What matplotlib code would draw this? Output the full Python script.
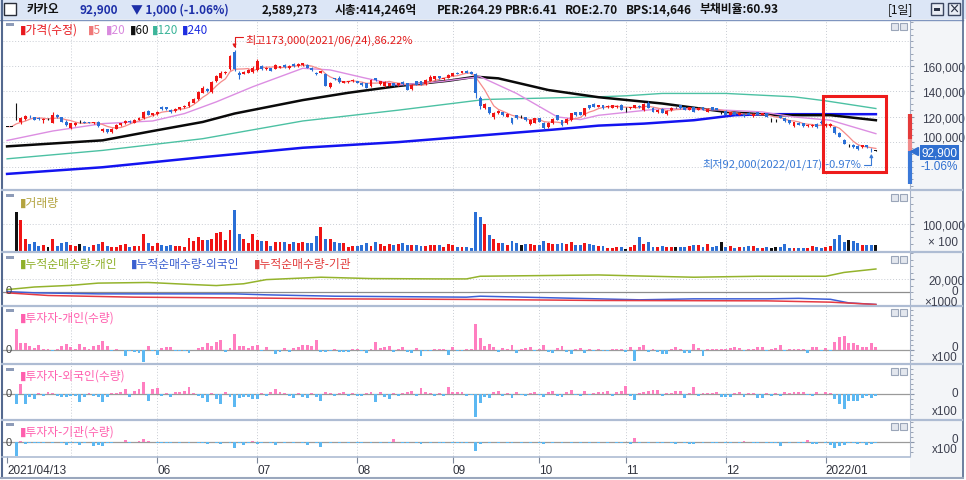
import numpy as np
import pandas as pd
import matplotlib
matplotlib.use("Agg")
import matplotlib.pyplot as plt
import matplotlib.transforms as mtrans
from matplotlib.patches import Rectangle
from matplotlib.lines import Line2D
from matplotlib.ticker import MultipleLocator, FuncFormatter

plt.rcParams['font.family'] = ['Noto Sans CJK KR', 'DejaVu Sans']

W, H = 966, 481

# ---- daily candles, thousand won (2021/04/13 .. 2022/01/18) ----
opens = [112, 112, 118.5, 115.5, 118, 120, 119.7, 118.5, 117, 117.8,
         115, 121, 119.5, 116, 111, 113, 115.5, 116, 115.5, 114.5,
         115.5, 108.5, 110, 107.5, 110.5, 113, 114.5, 116.5, 115, 117.5,
         118.5, 124.5, 121, 122, 128, 127.5, 125.5, 124.5, 126, 127.5,
         128.5, 131, 134, 139, 142, 139.5, 148, 151, 154.5, 157.5,
         171, 155, 154, 155, 155.5, 157, 160, 157.5, 158.5, 158,
         159, 161, 159, 162, 160, 161, 161, 159, 155, 155,
         154, 143.5, 150.5, 151, 147, 147.5, 148, 148, 147, 146.5,
         144, 150.5, 146, 144, 144.5, 146.5, 145, 147.5, 146.5, 142,
         148, 148, 146, 148.5, 149.5, 152, 149.5, 151, 152.5, 154.5,
         155, 156.5, 155.5, 154, 135, 126.5, 127.5, 120, 122.5, 123.5,
         120, 118.5, 121, 119.5, 119.5, 114, 115, 118.5, 115, 112,
         114.5, 121, 117, 114.5, 117, 123.5, 123.5, 121, 129, 130,
         128, 129, 127.5, 127, 127.5, 129.5, 125.8, 126.5, 127, 128.5,
         125, 131, 127, 123.5, 126, 122, 125, 127.5, 129, 127.5,
         125.5, 127.5, 125.5, 127.5, 124, 127.5, 126.5, 123.5, 124.5, 121.5,
         123.5, 121.5, 122, 123, 120.5, 123.5, 121.5, 122.5, 117, 117,
         120.5, 118.5, 117, 112.5, 115, 114.5, 112.5, 112.5, 114, 116,
         112.5, 112.5, 111.5, 107, 101.5, 97, 97.5, 96.5, 95.5, 97,
         94.5, 92.9]
highs = [112, 112, 131, 120, 121.5, 121, 120, 119.5, 118.5, 118.5,
         123.5, 122, 120, 117, 115, 116, 117, 116.5, 116, 116,
         116.5, 111, 110.5, 111, 114, 115, 117.5, 117, 118, 119.5,
         124.5, 125, 123, 124.5, 128.5, 128, 126, 126.5, 128, 129,
         132, 134.5, 140, 144, 143, 148, 153, 156, 156, 169,
         173, 156, 156, 157.5, 160, 165.5, 161, 159.5, 159, 161.5,
         160.5, 161.5, 161, 162.5, 162.5, 163, 161.5, 159.5, 155.5, 156.5,
         154.5, 147.5, 151, 152, 148.5, 148.5, 149.5, 148.5, 147.5, 147,
         149.5, 151, 148.5, 148, 147, 147, 147, 148, 147, 146,
         148.5, 148.5, 149.5, 153, 152.5, 152.5, 151, 153.5, 155, 155.5,
         156.5, 157, 156, 154.5, 136, 131, 128, 124, 125, 124,
         122.5, 119, 121.5, 121, 120, 118, 119, 119, 115.5, 115.5,
         118.5, 121.5, 117.5, 118.5, 123, 124, 124, 127, 129.5, 130.5,
         129.5, 129.5, 129, 129.5, 129, 130, 127.5, 128, 129.5, 129,
         131, 132, 127.5, 126, 126.5, 125, 127.5, 128, 129.5, 128,
         128, 128, 127.5, 128, 126.5, 128, 127, 124.5, 125, 124,
         124, 123.5, 122.5, 123.5, 122.5, 124, 123, 123, 118.5, 118,
         121, 119, 117.5, 116, 116, 115, 114, 114, 114.5, 117.5,
         114.5, 115, 112, 108, 102, 98.5, 98.5, 97, 97.5, 97.5,
         95, 93.5]
lows = [112, 112, 117, 114, 117, 118.5, 117, 117.5, 114.5, 117,
        114.5, 119, 115.5, 112.5, 110, 112.5, 114.5, 114.5, 114.5, 114,
        112, 108, 107, 107, 110, 112.5, 114, 115, 114.5, 117,
        118, 121, 120.5, 121.5, 125.5, 125.5, 123, 124, 125.5, 127,
        128, 130.5, 133.5, 138.5, 139.5, 139, 147.5, 150.5, 154, 157,
        156.5, 149.5, 153.5, 154.5, 155, 156.5, 157, 157, 156, 157.5,
        158.5, 159, 157.5, 159.5, 159.5, 160.5, 158.5, 156.5, 153, 154.5,
        144, 142.5, 149, 147, 146.5, 147, 147.5, 146.5, 144.5, 142.5,
        143.5, 148.5, 145.5, 143.5, 144, 144, 144.5, 145.5, 141, 141.5,
        145, 145, 145.5, 148, 149, 150, 149, 150.5, 152, 153.5,
        154.5, 154.5, 153.5, 134.5, 126, 126, 122, 118, 122, 120.5,
        119.5, 114, 118, 118.5, 116.5, 113.5, 114.5, 115.5, 110.5, 111,
        114, 117, 112.5, 114, 116.5, 120.5, 121, 120.5, 126, 127.5,
        127.5, 126, 127, 126.5, 127, 125, 124, 126, 126.5, 127,
        124.5, 126.5, 123.5, 123, 122.5, 121.5, 124.5, 126.5, 126, 125,
        125, 123.5, 125, 125, 123.5, 125, 125, 122, 121, 121,
        121, 121, 120, 121, 120, 121, 121, 119.5, 115.5, 115.5,
        118.5, 116, 114, 112, 113, 112, 112, 112, 111, 114,
        112, 111.5, 106.5, 103.5, 98, 96, 95, 93.5, 95, 95,
        92, 92.5]
closes = [112, 112, 118.5, 119, 120.5, 119.5, 117.5, 118, 118, 117.8,
          121, 119.5, 116, 113, 114.5, 115, 115.5, 115, 115, 115.5,
          112.5, 110.5, 107.5, 110.5, 113.5, 114.5, 116.5, 115.5, 117.5, 119,
          123.5, 121.5, 122.5, 124, 126, 126, 123.5, 126, 127.5, 128.5,
          131.5, 134, 139.5, 143, 140, 147.5, 152, 155, 155.5, 168,
          157.5, 153, 155.5, 157, 159, 164.5, 157.5, 159, 156.5, 161,
          160, 159.5, 160.5, 160, 162, 162.5, 159, 157, 153.5, 156,
          144.5, 147, 149.5, 147.5, 148, 148, 149, 147, 145, 143,
          149, 149, 148, 147.5, 146.5, 144.5, 146.5, 146, 141.5, 145.5,
          145.5, 145.5, 149, 151.5, 152, 150.5, 150.5, 153, 154.5, 154,
          156, 155, 154, 138.5, 128.5, 130, 122.5, 123, 124.5, 121,
          122, 114.5, 118.5, 119.5, 117, 117.5, 118.5, 116, 111, 115,
          118, 117.5, 113, 118, 122.5, 121, 121.5, 126.5, 126.5, 128,
          129, 126.5, 128.5, 129, 128.5, 125.5, 125.8, 127.5, 129, 127.5,
          130, 127, 124, 125.5, 123, 124.5, 127, 127.5, 126.5, 125.5,
          127.5, 124, 127, 125.5, 126, 125.5, 125.5, 123.5, 121.5, 123.5,
          121.5, 123, 120.5, 121.5, 122, 121.5, 122.5, 120, 117, 117,
          119, 116.5, 114.5, 115.5, 113.5, 112.5, 113.5, 113.5, 111.5, 114.5,
          114, 114, 107, 104, 98.5, 97, 95.5, 94, 97, 95.5,
          93.9, 92.9]

# volume, million shares
volume = [0, 0, 14.4, 11.5, 4.4, 2.5, 3.4, 1.9, 2.1, 1.3,
          4.4, 1.7, 2.9, 3.4, 2.1, 1.9, 2.5, 1.7, 1.3, 2.1,
          2.7, 3.4, 1.9, 1.4, 1.6, 2.1, 2.5, 1.6, 1.7, 1.9,
          6.2, 2.9, 1.9, 2.9, 2.3, 1.9, 2.1, 1.7, 1.7, 1.6,
          4.8, 3.7, 5.2, 4.0, 4.0, 4.4, 6.7, 6.9, 3.9, 7.9,
          15.4, 6.2, 4.4, 3.1, 6.2, 3.9, 3.7, 3.7, 1.7, 3.4,
          3.2, 3.2, 2.5, 3.2, 3.1, 3.4, 3.1, 3.1, 5.4, 8.8,
          4.6, 4.6, 3.2, 2.9, 3.1, 1.3, 1.9, 1.9, 2.1, 2.9,
          1.9, 3.2, 2.5, 1.9, 2.5, 2.1, 2.5, 2.9, 2.3, 2.3,
          2.3, 1.9, 1.9, 2.3, 2.1, 2.1, 1.3, 2.5, 2.3, 1.6,
          1.6, 1.6, 0.9, 14.4, 12.8, 10.0, 6.0, 4.5, 3.0, 2.8,
          2.2, 3.5, 3.0, 2.0, 2.4, 2.6, 2.0, 2.2, 3.6, 2.8,
          2.5, 2.6, 3.0, 2.4, 3.2, 2.2, 2.0, 3.0, 2.5, 2.2,
          1.8, 1.9, 1.1, 1.1, 1.6, 1.3, 0.8, 1.6, 2.1, 5.2,
          2.5, 3.4, 1.6, 1.6, 1.9, 1.6, 1.3, 1.6, 1.6, 1.6,
          1.9, 2.1, 2.1, 1.6, 2.5, 1.6, 1.9, 3.2, 1.6, 1.9,
          1.2, 1.3, 1.3, 1.9, 1.9, 1.2, 1.2, 1.3, 0.9, 1.3,
          1.3, 2.5, 1.2, 0.9, 1.2, 1.2, 1.2, 1.9, 1.6, 1.2,
          1.6, 1.9, 4.4, 5.9, 3.2, 4.1, 3.7, 2.9, 2.1, 2.1,
          2.1, 2.1]

# moving averages (bar index, thousand won)
ma20_idx = [0, 10, 21, 32, 39, 46, 54, 65, 71, 79, 86, 95, 101, 104, 112, 121, 126, 130, 144, 158, 166, 173, 181, 191]
ma20_val = [101, 108.5, 114.4, 116.5, 122.4, 131.7, 143.7, 158.4, 157.1, 150.4, 145.1, 147.7, 150.4, 151.7,
            138.4, 119.7, 117.6, 121, 126.4, 125.1, 123.7, 119.7, 117.1, 106.4]
ma60_idx = [0, 21, 32, 43, 50, 65, 75, 86, 97, 103, 108, 119, 130, 144, 158, 169, 181, 191]
ma60_val = [96.3, 101.1, 108.5, 115.7, 122.4, 133.1, 138.9, 144.3, 148.5, 151.7, 150.4, 141.1, 135.4,
            130.4, 123.7, 121.1, 121.1, 117.1]
ma120_idx = [0, 21, 43, 65, 86, 105, 130, 136, 144, 158, 173, 180, 191]
ma120_val = [86.4, 93.1, 102.4, 116.5, 125.1, 133.6, 135.7, 136.5, 138.4, 138.4, 135.7, 132.5, 126.4]
ma240_idx = [0, 21, 43, 65, 86, 109, 120, 130, 140, 151, 160, 167, 191]
ma240_val = [74.4, 79.7, 87.7, 95.2, 99.7, 106.4, 109.6, 112.8, 114.4, 117.1, 121.1, 121.9, 121.9]

# cumulative net buying (x1000 shares)
cum_ind_idx = [0, 6, 14, 20, 31, 40, 46, 52, 57, 69, 80, 95, 101, 104, 130, 139, 151, 165, 180, 184, 191]
cum_ind_val = [4000, 8000, 10500, 14000, 15000, 12000, 10200, 13000, 19400, 23100, 21000, 20500, 20500,
               24600, 26600, 25000, 23100, 24600, 24600, 30500, 35800]
cum_for_idx = [0, 6, 20, 50, 57, 72, 101, 104, 130, 139, 151, 167, 174, 181, 185, 191]
cum_for_val = [900, -1000, -2600, -2600, -4100, -6200, -7700, -6200, -10300, -11800, -10300, -10300,
               -9500, -11000, -16500, -19000]
cum_ins_idx = [0, 9, 28, 57, 72, 104, 130, 167, 181, 191]
cum_ins_val = [-1000, -5100, -7700, -9200, -10300, -11300, -12800, -13400, -15400, -19000]

# daily net buying by investor
indiv = [0, 0, 21, 7, 7, 4, 2, 5, 1, 0.5,
         -1.7, 0.7, 4, 6, 3, 1.2, 6, 3, 1.2, 4,
         5, 9, 4, -1.3, 0.7, -0.3, -6, -1, -2.7, -3.3,
         -12.7, 3.7, -1.7, -5.3, 1.7, 2.3, 2.3, -1.7, -1.7, -1.7,
         -3.3, -0.3, 1.3, 2.3, 6.7, 3.3, 7.3, 10, -2, 1.7,
         15.7, 4, 4, 1.3, 4, 5, -1.7, 3, -0.3, -4.3,
         -2.7, 1.7, -2.7, 1.3, 3, 5, 5, 3.3, 10, -2.7,
         -2, -1.7, 0.3, -2, -2, -2, 0.7, 0.7, -1.7, -3.3,
         0.7, 8, 1.3, 3, 4, -2.7, 0.7, 3, -2.7, -3.7,
         1.3, -6, -1.7, -1.7, 0.7, 0.7, 0.3, -5.3, 2.3, -1.7,
         -1.7, 0.3, 0.3, 25.7, 12, 4, 6, 3, -2, 2,
         1, 5, -3, 1, 2, 3, -1.5, 1, 5, -2,
         -3, 1.5, 4, -2, -4, 1, 2, -3, 1, -1,
         0.5, -1, -1, 0.7, 0.7, 1, -2.7, 3, -11, 2.3,
         4.7, -2, 0.7, -2, -4.3, -4.3, 0.3, 3, 0.5, -3.3,
         -3.3, 5.7, 1.7, -6, 0.7, 0.7, 0.3, 0.5, 0.7, 1.3,
         3, 1.7, -1.7, 0.7, 0.3, 3, 3, -1.7, 0.5, 1.7,
         5, -1.7, 0.7, 0.7, 0.7, 0.3, -3.3, 2.3, 3, -1.7,
         2, -1, 8, 13, 14, 6.3, 6.3, 4.7, 2.3, 3,
         6.3, 2.3]
foreign = [0, 0, -10, 10, -10, -3.3, -5, 0.7, -2.3, 1.7,
           0.7, -1.7, -3.3, -3.3, -1.7, -1.7, -7.7, -3.3, 0.7, -1.7,
           -2.7, -7.7, -2.7, 1, 0.7, 1.7, 5, -2.7, 3.3, 5,
           11.7, -6.7, 5, 5.7, -1.7, 0.7, -2.7, 1.7, 2.3, 3.3,
           6.7, 0.7, -1.7, -4, -8.3, 0.7, -5, -10, 1.7, -2.7,
           -13.3, -4.3, -3.3, -2.7, -5, -5, 0.7, -1.7, 1.7, 5,
           1.7, 0.7, -1.7, -4.3, 0.7, -3.3, -4.3, 0.7, -2.7, -7.3,
           1.7, 0.7, -1.7, 0.7, 1.7, -1.7, 0.7, -1.7, -1.7, 0.7,
           1.7, -8.3, 1.7, -3.3, -5, 0.7, -1.7, 0.7, 1.7, 3.3,
           -1.7, 5.7, 2.3, 0.7, -1.7, 0.7, -1.7, 6.7, 1.7, 2.3,
           1.7, -1.7, -1, -23.3, -9, -3, -4, 2, 3, -2,
           1, -4, 2, -1, -2, 1.5, 2, -1, -3, 2.5,
           3, -1.5, -3, 2, 4, -1, -2, 3, -1, 1,
           1.7, 1.7, 3, -1.7, 2.3, 3.3, 7.7, -1.7, -5.7, 0.7,
           1.7, 3.3, 4, 4, -1.7, 0.7, 0.7, 2.7, 2.7, -4.3,
           0.7, 6.7, -1.7, 0.7, 0.7, 0.7, 1.7, -3.3, -2.7, -2.7,
           0.7, 1.7, -2.7, 0.7, 0.7, -4, -4, 0.7, -1.7, 0.7,
           -1.7, 1.7, 0.7, 1.7, 2.3, 2.3, -1, -1.7, 1.7, 0.5,
           1.7, 0.7, -5, -10, -15, -6.7, -6.7, -6.7, -4.3, -2.3,
           -4, -1.7]
inst = [0, 0, -13.3, 1.7, -1.7, -0.7, -1, -0.7, -1, 0.5,
        -0.7, 0.5, -1, -2.7, -0.7, -1, -2.7, -0.7, 0.5, -3.3,
        -2.7, -3.3, -1, -0.7, 0.5, 0.7, 2.7, -0.7, 0.7, 1,
        3.3, 1.7, 0.5, -0.7, -1, -0.7, -1, 0.5, -0.7, 0.5,
        -0.7, 0.5, -0.7, -1, -1.7, 0.7, -1, -1.7, 0.5, -0.7,
        -5.7, -0.7, -2.7, -0.7, 1.7, -2, -0.7, 0.5, -0.7, -2.7,
        0.7, -0.7, 0.5, -0.7, 0.7, -0.7, -2.7, 0.5, -0.7, -5,
        0.5, -0.7, 0.7, -0.7, 0.5, -0.7, 0.7, -1, -0.7, 0.5,
        -0.7, 0.5, -0.7, 0.7, -0.7, 3.3, 0.5, -0.7, -0.7, 0.5,
        -0.7, -1.7, 0.5, -0.7, 0.5, -0.7, -0.7, 0.5, -0.7, -0.7,
        -0.7, -1, 0.5, -8.3, -2, 0.7, -1, 0.5, -0.7, 0.5,
        -0.7, -1, 0.7, -0.7, 0.5, -1, 0.7, -0.7, -1.7, 0.5,
        -0.7, 0.7, -0.7, 0.5, -1, 0.7, -0.7, 0.5, -0.7, 0.5,
        -0.7, 0.5, -0.7, 0.5, -0.7, -1, 0.5, -1.7, 4, -0.7,
        0.5, -0.7, 0.5, -0.7, -1, 0.5, -0.7, -1.7, 0.5, -0.7,
        -1.7, -1.7, 0.5, -0.7, 0.5, -0.7, -0.7, 0.5, -0.7, -0.7,
        0.5, -0.7, 1.7, 0.5, -0.7, -0.7, 0.5, -0.7, -1, -0.7,
        -3.3, 0.5, -0.7, 0.5, -0.7, -0.7, 2.3, -1.7, -1.7, 0.5,
        -0.7, -2.7, -5.7, -4, -2.7, -1, -0.7, -1.7, -0.7, -2.7,
        -1.7, -0.7]

month_idx = [0, 33, 55, 77, 98, 117, 136, 158, 180]
month_lbl = ['2021/04/13', '06', '07', '08', '09', '10', '11', '12', '2022/01']
grid_idx = [14, 33, 55, 77, 98, 117, 136, 158, 180]

peak_idx, low_idx = 50, 190

# ---- colours ----
UP, DOWN, FLAT = '#f01414', '#2a6fd6', '#111111'
PINK, SKY = '#ff7ec0', '#5cb8f2'
GRID = '#c9cdd4'
NUMFONT = 'Liberation Sans'

o = np.array(opens) * 1000
h = np.array(highs) * 1000
l = np.array(lows) * 1000
c = np.array(closes) * 1000
n = len(c)
x = np.arange(n)
cols = np.where(c > o, UP, np.where(c < o, DOWN, FLAT))


def prect(x0, y0, x1, y1):
    return [x0 / W, 1 - y1 / H, (x1 - x0) / W, (y1 - y0) / H]


def fbox(x0, y0, x1, y1, **kw):
    fig.add_artist(Rectangle((x0 / W, 1 - y1 / H), (x1 - x0) / W, (y1 - y0) / H,
                             transform=fig.transFigure, **kw))


def fline(x0, y0, x1, y1, **kw):
    fig.add_artist(Line2D([x0 / W, x1 / W], [1 - y0 / H, 1 - y1 / H],
                          transform=fig.transFigure, **kw))


def ftext(xp, yp, s, **kw):
    kw.setdefault('va', 'center')
    kw.setdefault('ha', 'left')
    fig.text(xp / W, 1 - yp / H, s, **kw)


fig = plt.figure(figsize=(W / 100, H / 100), dpi=100)
fig.patch.set_facecolor('white')

# frame and right gutter
fbox(910, 21, 962, 478, fc='#f3f5f8', ec='none', zorder=0)
fbox(0, 0, 966, 20, fc='#dce6f6', ec='none')
fline(0, 20.5, 963, 20.5, color='#7f95bf', lw=1)
fline(1.5, 0, 1.5, 479, color='#54698f', lw=1.5)
fline(962.5, 0, 962.5, 479, color='#54698f', lw=1.2)
fline(0, 478.5, 963, 478.5, color='#9aa7bd', lw=1.5)

panels = [(21, 190), (192, 252), (254, 306), (307, 364), (366, 420), (421, 457)]
axes = []
for (t, b) in panels:
    a = fig.add_axes(prect(3, t, 910, b))
    a.set_facecolor('white')
    for s in ['top', 'left', 'bottom']:
        a.spines[s].set_visible(False)
    a.spines['right'].set_color('#a7b3c8')
    a.yaxis.tick_right()
    a.tick_params(axis='y', labelsize=8.5, colors='#8a96aa', labelcolor='#3c3f4e',
                  length=3, pad=6, direction='out', labelfontfamily=NUMFONT)
    a.tick_params(axis='y', which='minor', length=2, colors='#8a96aa')
    a.set_xlim(-0.9, 198.5)
    for g in grid_idx:
        a.axvline(g, color=GRID, lw=0.7, ls=(0, (1, 2)), zorder=0)
    a.tick_params(axis='x', bottom=False, labelbottom=False)
    axes.append(a)
ax_p, ax_v, ax_c, ax_i, ax_f, ax_o = axes

for (t, b) in panels[:-1]:
    fline(2, b + 1, 962, b + 1, color='#aebcd3', lw=1.6)
fline(2, 457.5, 910, 457.5, color='#aebcd3', lw=1.2)

comma = FuncFormatter(lambda v, p: f'{v:,.0f}')

# ---- price panel ----
ax_p.set_ylim(62400, 196800)
for lv in [80000, 100000, 120000, 140000, 160000, 180000]:
    ax_p.axhline(lv, color=GRID, lw=0.7, ls=(0, (1, 2)), zorder=0)
ax_p.set_yticks([100000, 120000, 140000, 160000])
ax_p.yaxis.set_major_formatter(comma)
ax_p.yaxis.set_minor_locator(MultipleLocator(5000))

ma5 = pd.Series(c).rolling(5, min_periods=1).mean()
ax_p.plot(ma240_idx, np.array(ma240_val) * 1000, color='#1414f0', lw=1.8, zorder=2)
ax_p.plot(ma120_idx, np.array(ma120_val) * 1000, color='#4cc1a3', lw=1.0, zorder=2)
ax_p.plot(ma60_idx, np.array(ma60_val) * 1000, color='#0a0a0a', lw=1.8, zorder=2)
ax_p.plot(ma20_idx, np.array(ma20_val) * 1000, color='#dc8ee2', lw=1.0, zorder=2)
ax_p.plot(x, ma5, color='#f58b8b', lw=0.9, zorder=2)

ax_p.vlines(x, l, h, colors=cols, lw=0.8, zorder=3)
body_lo = np.minimum(o, c)
body_h = np.maximum(np.abs(c - o), 450)
ax_p.bar(x, body_h, bottom=body_lo, width=0.64, color=cols, lw=0, zorder=4)

ax_p.annotate('최고173,000(2021/06/24),86.22%', xy=(peak_idx, h[peak_idx] + 1500),
              xytext=(8, 6), textcoords='offset points', ha='left', va='center',
              fontsize=8, color='#e21b1b',
              arrowprops=dict(arrowstyle='-|>', color='#e21b1b', lw=0.8, mutation_scale=5,
                              shrinkA=0, shrinkB=0, relpos=(0, 0.75),
                              connectionstyle='angle,angleA=0,angleB=90,rad=0'))
ax_p.annotate('최저92,000(2022/01/17),-0.97%', xy=(low_idx, l[low_idx] - 1500),
              xytext=(-7, -7), textcoords='offset points', ha='right', va='center',
              fontsize=8, color='#3a7ad6',
              arrowprops=dict(arrowstyle='-|>', color='#3a7ad6', lw=0.8, mutation_scale=5,
                              shrinkA=0, shrinkB=0, relpos=(1, 0.4),
                              connectionstyle='angle,angleA=0,angleB=90,rad=0'))

ax_p.add_patch(Rectangle((179.3, 76000), 13.9, 60000, fill=False, ec='#ee1c1c',
                         lw=2.2, clip_on=False, zorder=6))

# the 100,000 label sits just above the current-price box
fig.canvas.draw()
for lab in ax_p.get_yticklabels():
    if lab.get_text() == '100,000':
        lab.set_transform(lab.get_transform() +
                          mtrans.ScaledTranslation(0, 4 / 72, fig.dpi_scale_trans))

blend = mtrans.blended_transform_factory(ax_p.transAxes, ax_p.transData)
last = c[-1]
ax_p.plot([0.9995, 0.9995], [102400, 122400], transform=blend, color='#e43a3a', lw=3,
          solid_capstyle='butt', clip_on=False, zorder=5)
ax_p.plot([0.9995, 0.9995], [last, 102400], transform=blend, color='#f08a8a', lw=3,
          solid_capstyle='butt', clip_on=False, zorder=5)
ax_p.plot([0.9995, 0.9995], [66000, last], transform=blend, color='#3a78d8', lw=3,
          solid_capstyle='butt', clip_on=False, zorder=5)
ax_p.plot([1.0045], [last], marker='<', ms=5.5, color='#2f6fd0', transform=blend,
          clip_on=False, zorder=6)
ax_p.annotate(f'{last:,.0f}', xy=(1.0125, last), xycoords=blend, xytext=(0, -1.5),
              textcoords='offset points', ha='left', va='center', family=NUMFONT,
              fontsize=8.5, color='white', annotation_clip=False, zorder=7,
              bbox=dict(fc='#2f6fd0', ec='none', pad=1.0))
ax_p.annotate('-1.06%', xy=(1.0529, last), xycoords=blend, xytext=(0, -11),
              textcoords='offset points', ha='right', va='center', fontsize=8.5,
              family=NUMFONT, color='#2f6fd0', annotation_clip=False)

# ---- volume panel ----
vol = np.array(volume) * 1e4
ax_v.set_ylim(-800, 224000)
ax_v.bar(x, vol, width=0.64, color=cols, lw=0, zorder=3)
ax_v.axhline(100000, color=GRID, lw=0.7, ls=(0, (1, 2)), zorder=0)
ax_v.set_yticks([100000])
ax_v.yaxis.set_major_formatter(comma)
ax_v.yaxis.set_minor_locator(MultipleLocator(25000))

# ---- cumulative net buying ----
ax_c.set_ylim(-19800, 60500)
ax_c.axhline(0, color='#8d8d8d', lw=0.9, zorder=1)
ax_c.axhline(20000, color=GRID, lw=0.7, ls=(0, (1, 2)), zorder=0)
ax_c.plot(cum_ind_idx, cum_ind_val, color='#94b32c', lw=1.1, zorder=3)
ax_c.plot(cum_for_idx, cum_for_val, color='#3d5fd6', lw=1.1, zorder=3)
ax_c.plot(cum_ins_idx, cum_ins_val, color='#e53a42', lw=1.1, zorder=3)
ax_c.set_yticks([20000])
ax_c.yaxis.set_major_formatter(comma)
ax_c.yaxis.set_minor_locator(MultipleLocator(10000))
ax_c.tick_params(axis='y', pad=10)

# ---- investor panels ----
for a, vals, lim in [(ax_i, indiv, (-13.3, 43.7)), (ax_f, foreign, (-25, 29)), (ax_o, inst, (-13.7, 22.3))]:
    v = np.array(vals)
    a.set_ylim(*lim)
    a.axhline(0, color='#9a9a9a', lw=0.9, zorder=1)
    a.bar(x, v, width=0.64, color=np.where(v >= 0, PINK, SKY), lw=0, zorder=3)
    a.set_yticks([0])
    a.set_yticklabels([''])
    a.yaxis.set_minor_locator(MultipleLocator(5))

ax_o.set_xticks(month_idx)
ax_o.set_xticklabels(month_lbl, ha='left')
ax_o.tick_params(axis='x', bottom=True, labelbottom=True, direction='out', length=5,
                 pad=0.5, labelsize=8.5, colors='#7d8799', labelcolor='#30323c',
                 labelfontfamily=NUMFONT)

# ---- title bar ----
fbox(4, 4, 16, 16, fc='white', ec='#2b2f3a', lw=1)
tb = dict(fontsize=8.5, fontweight='bold')
ftext(27, 10, '카카오', color='#111111', **tb)
ftext(79, 10, '92,900', color='#1d2fa8', **tb)
ftext(131, 10, '▼ 1,000 (-1.06%)', color='#1d2fa8', **tb)
ftext(262, 10, '2,589,273', color='#111111', **tb)
ftext(335, 10, '시총:414,246억', color='#111111', **tb)
ftext(437, 10, 'PER:264.29', color='#111111', **tb)
ftext(505, 10, 'PBR:6.41', color='#111111', **tb)
ftext(565, 10, 'ROE:2.70', color='#111111', **tb)
ftext(626, 10, 'BPS:14,646', color='#111111', **tb)
ftext(700, 10, '부채비율:60.93', color='#111111', **tb)
ftext(888, 10, '[1일]', color='#111111', fontsize=8.5)
fbox(931, 4, 943, 16, fc='#e9edf5', ec='#3b4660', lw=1)
fbox(948, 4, 960, 16, fc='#e9edf5', ec='#3b4660', lw=1)
fbox(934, 9, 940, 12, fc='#2b3346', ec='none')
ftext(954, 10, '×', ha='center', color='#2b3346', fontsize=8, fontweight='bold')

# ---- panel legends / icons ----
for (t, b) in panels:
    fbox(6, t + 3, 14, t + 6, fc='#8d9bb8', ec='none')
    fbox(891, t + 3, 898, t + 10, fc='#e3e7ee', ec='#9ba6b9', lw=0.8)
    fbox(900, t + 3, 907, t + 10, fc='#e3e7ee', ec='#9ba6b9', lw=0.8)

lg = dict(fontsize=8.5)
for s, col, xp in [('▮가격(수정)', '#e8191e', 20), ('▮5', '#f07878', 88), ('▮20', '#d98ade', 106),
                   ('▮60', '#111111', 130), ('▮120', '#3cb59a', 152), ('▮240', '#1e2ee0', 182)]:
    ftext(xp, 30, s, color=col, **lg)
ftext(20, 203, '▮거래량', color='#b3a33e', **lg)
for s, col, xp in [('▮누적순매수량-개인', '#8fb02a', 20), ('▮누적순매수량-외국인', '#3a5fd0', 131),
                   ('▮누적순매수량-기관', '#e23c3c', 254)]:
    ftext(xp, 264, s, color=col, **lg)
ftext(20, 318, '▮투자자-개인(수량)', color='#ff5fae', **lg)
ftext(20, 376, '▮투자자-외국인(수량)', color='#ff5fae', **lg)
ftext(20, 432, '▮투자자-기관(수량)', color='#ff5fae', **lg)

# right-hand unit labels (zero level and unit stacked in one text)
unit = dict(fontsize=8.5, color='#3c3f4e', ha='right', family=NUMFONT,
            linespacing=0.85, multialignment='right')
ftext(958, 243, '× 100', **unit)
ftext(958, 297.5, '0\n×1000', **unit)
ftext(958, 353, '0\nx100', **unit)
ftext(958, 394, '0', **unit)
ftext(958, 412, 'x100', **unit)
ftext(958, 445, '0\nx100', **unit)

# zero labels on the left edge
for yp in [291, 350, 394, 443]:
    ftext(6, yp, '0', color='#444444', fontsize=8, family=NUMFONT)

fig.savefig('out.png', dpi=100, facecolor='white')
